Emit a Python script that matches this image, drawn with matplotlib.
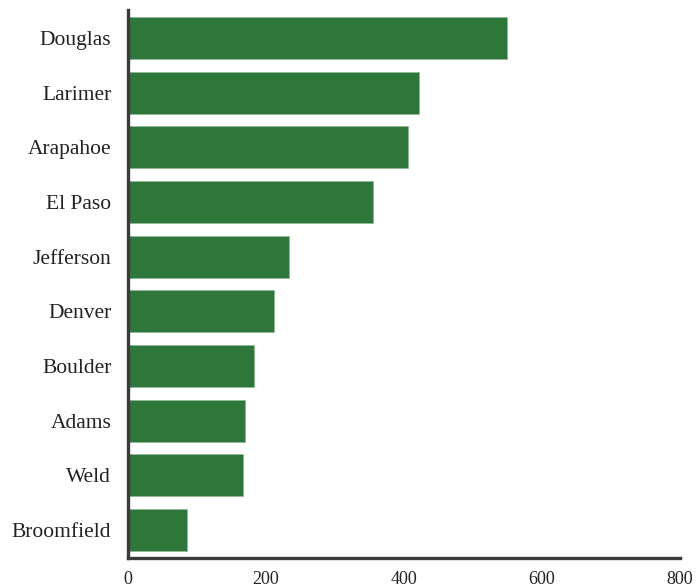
import matplotlib
matplotlib.use('Agg')
import matplotlib.pyplot as plt

# county names and bar values, top to bottom
counties = ['Douglas', 'Larimer', 'Arapahoe', 'El Paso', 'Jefferson',
            'Denver', 'Boulder', 'Adams', 'Weld', 'Broomfield']
values = [549, 422, 406, 355, 233, 211, 183, 170, 166, 85]
x_ticks = [0, 200, 400, 600, 800]

plt.rcParams['font.family'] = ['Liberation Serif', 'DejaVu Serif']

fig = plt.figure(figsize=(6.99, 5.88), dpi=100)
ax = fig.add_axes([128 / 699, 1 - 558 / 588, 552 / 699, 548 / 588])

positions = list(range(len(counties)))
ax.barh(positions, values, height=0.77, color='#2e7639',
        edgecolor='#8fb896', linewidth=0.6)

ax.set_yticks(positions)
ax.set_yticklabels(counties, fontsize=15.5)
ax.set_xticks(x_ticks)
ax.set_xticklabels([str(t) for t in x_ticks], fontsize=13)
ax.set_xlim(0, 800)
ax.set_ylim(len(counties) - 0.49, -0.51)

ax.tick_params(axis='both', length=0, colors='#222222')
ax.tick_params(axis='x', pad=9)
ax.tick_params(axis='y', pad=12)

for side in ['top', 'right']:
    ax.spines[side].set_visible(False)
for side in ['left', 'bottom']:
    ax.spines[side].set_color('#3a3a3a')
    ax.spines[side].set_linewidth(2.4)

fig.savefig('out.png', dpi=100)
